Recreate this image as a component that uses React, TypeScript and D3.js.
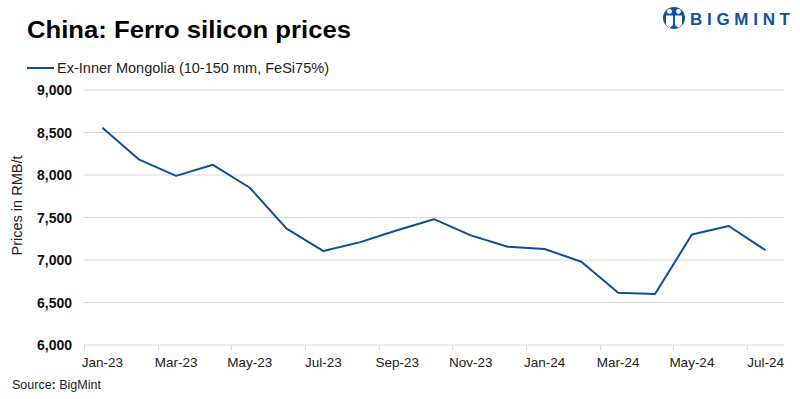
import * as d3 from 'd3';
import * as React from 'react';

// chart data
const months = [
    'Jan-23', 'Feb-23', 'Mar-23', 'Apr-23', 'May-23', 'Jun-23', 'Jul-23', 'Aug-23', 'Sep-23', 'Oct-23',
    'Nov-23', 'Dec-23', 'Jan-24', 'Feb-24', 'Mar-24', 'Apr-24', 'May-24', 'Jun-24', 'Jul-24',
];
const prices = [
    8555, 8180, 7990, 8120, 7850, 7370, 7105, 7210, 7350, 7480,
    7290, 7155, 7130, 6980, 6615, 6600, 7300, 7400, 7115,
];
const yTicks = [6000, 6500, 7000, 7500, 8000, 8500, 9000];
const seriesName = 'Ex-Inner Mongolia (10-150 mm, FeSi75%)';

const width = 800;
const height = 399;
const plot = { left: 84, right: 784, top: 90, bottom: 345 };
const lineColor = '#0b4f9e';
const gridColor = '#d9d9d9';
const font = '"Liberation Sans", Arial, sans-serif';

export default function App() {
    const x = d3.scalePoint<string>()
        .domain(months)
        .range([plot.left, plot.right])
        .padding(0.5);
    const y = d3.scaleLinear()
        .domain([6000, 9000])
        .range([plot.bottom, plot.top]);
    const step = x.step();

    const line = d3.line<number>()
        .x((_, i) => x(months[i]) as number)
        .y(d => y(d));

    // every other month gets a label, ticks sit on category boundaries
    const labelled = months.filter((_, i) => i % 2 === 0);

    return (
        <svg width={width} height={height} style={{ position: 'absolute', left: 0, top: 0, background: '#fff' }}>
            <text x={27} y={38} fontFamily={font} fontWeight="bold" fontSize={24} fill="#000"
                textLength={324} lengthAdjust="spacingAndGlyphs">
                China: Ferro silicon prices
            </text>

            {/* logo */}
            <g fill="#1550a1">
                <circle cx={674} cy={18} r={11} />
                <circle cx={669.5} cy={11.5} r={2.4} fill="#fff" />
                <circle cx={678.5} cy={11.5} r={2.4} fill="#fff" />
                <path d="M666,15.5 h7 v9.5 l-3.5,3 l-3.5,-3 z" fill="#fff" />
                <path d="M675,15.5 h7 v9.5 l-3.5,3 l-3.5,-3 z" fill="#fff" />
                <text x={690} y={24.5} fontFamily={font} fontWeight="bold" fontSize={17}
                    textLength={100} lengthAdjust="spacing">
                    BIGMINT
                </text>
            </g>

            {/* legend */}
            <line x1={27} x2={54} y1={68} y2={68} stroke={lineColor} strokeWidth={2} />
            <text x={57} y={72.5} fontFamily={font} fontSize={14} fill="#222"
                textLength={272} lengthAdjust="spacingAndGlyphs">{seriesName}</text>

            {/* grid + y labels */}
            {yTicks.map(t => (
                <g key={t}>
                    {t > 6000 && (
                        <line x1={plot.left} x2={plot.right} y1={y(t)} y2={y(t)} stroke={gridColor} strokeWidth={1} />
                    )}
                    <text x={72} y={y(t) + 5} textAnchor="end" fontFamily={font} fontWeight="bold" fontSize={14} fill="#111">
                        {d3.format(',')(t)}
                    </text>
                </g>
            ))}

            {/* x axis */}
            <line x1={plot.left} x2={plot.right} y1={plot.bottom} y2={plot.bottom} stroke={gridColor} strokeWidth={1} />
            {labelled.map(m => {
                const cx = x(m) as number;
                const tx = Math.round(cx - step / 2) + 0.5;
                return (
                    <g key={m}>
                        <line x1={tx} x2={tx} y1={plot.bottom} y2={plot.bottom + 5} stroke={gridColor} />
                        <text x={cx} y={367} textAnchor="middle" fontFamily={font} fontSize={13.5} fill="#222">{m}</text>
                    </g>
                );
            })}

            <text
                transform={`translate(22,${(plot.top + plot.bottom) / 2 - 12}) rotate(-90)`}
                textAnchor="middle" fontFamily={font} fontSize={14.5} fill="#222"
            >
                Prices in RMB/t
            </text>

            <path d={line(prices) || ''} fill="none" stroke={lineColor} strokeWidth={2} strokeLinejoin="round" />

            <text x={12} y={389} fontFamily={font} fontSize={12.5} fill="#222">
                Source<tspan fontWeight="bold">:</tspan> BigMint
            </text>
        </svg>
    );
}
